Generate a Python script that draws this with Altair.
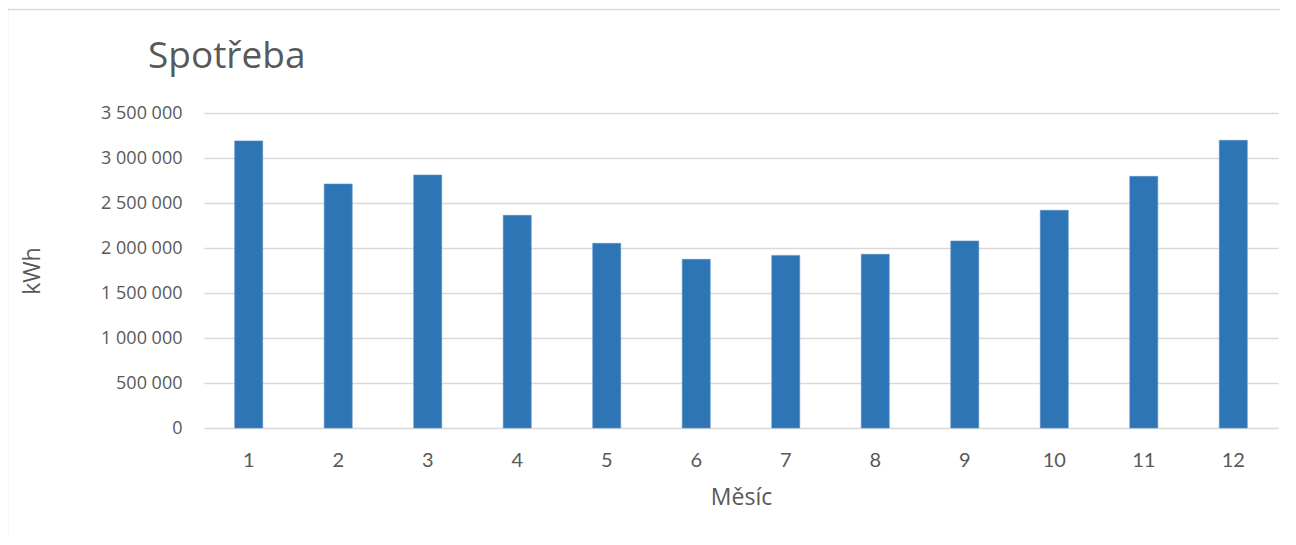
import altair as alt
import pandas as pd

months = [1, 2, 3, 4, 5, 6, 7, 8, 9, 10, 11, 12]
consumption = [3190000, 2711000, 2811000, 2363000, 2052000, 1874000,
               1918000, 1930000, 2078000, 2419000, 2796000, 3196000]
y_ticks = [0, 500000, 1000000, 1500000, 2000000, 2500000, 3000000, 3500000]
chart_title = "Spotřeba"

df = pd.DataFrame({"Měsíc": months, "kWh": consumption})

PLOT_W = 1074
PLOT_H = 315
GRAY_TEXT = "#595959"

bars = alt.Chart(df).mark_bar(color="#2E75B6", stroke="#5B8FC9", strokeWidth=0.6).encode(
    x=alt.X("Měsíc:O", title="Měsíc",
            scale=alt.Scale(paddingInner=0.687, paddingOuter=0.343),
            axis=alt.Axis(labelAngle=0, labelFontSize=20, labelColor=GRAY_TEXT,
                          labelFont="Lato", labelPadding=22, ticks=False, domain=False,
                          titleFontSize=23, titleColor=GRAY_TEXT, titleFont="Open Sans",
                          titleFontWeight="normal", titlePadding=16)),
    y=alt.Y("kWh:Q", title="kWh",
            scale=alt.Scale(domain=[0, 3500000], nice=False),
            axis=alt.Axis(values=y_ticks,
                          labelExpr="replace(replace(format(datum.value, ','), ',', ' '), ',', ' ')",
                          labelFontSize=18,
                          labelColor=GRAY_TEXT, labelFont="Open Sans", labelPadding=22,
                          ticks=False, domain=False, gridColor="#d9d9d9", gridWidth=1.5,
                          titleFontSize=23, titleColor=GRAY_TEXT, titleFont="Open Sans",
                          titleFontWeight="normal", titleX=-160, titleY=PLOT_H / 2)),
)

border = alt.Chart(pd.DataFrame({"a": [0]})).mark_rect(
    fill=None, stroke="#d9d9d9", strokeWidth=1.5
).encode(
    x=alt.value(-196.5), x2=alt.value(PLOT_W + 40),
    y=alt.value(-103.5), y2=alt.value(PLOT_H + 200),
)

title = alt.Chart(pd.DataFrame({"t": [chart_title]})).mark_text(
    align="left", baseline="alphabetic", fontSize=37, font="Open Sans",
    color=GRAY_TEXT
).encode(
    text="t:N", x=alt.value(-56), y=alt.value(-45),
)

chart = alt.layer(border, bars, title).properties(
    width=PLOT_W,
    height=PLOT_H,
    padding={"left": 196, "top": 105, "right": 2, "bottom": 108},
    autosize=alt.AutoSizeParams(type="none"),
).configure_view(stroke=None)

chart.save("out.html", embed_options={"renderer": "svg", "actions": False})
